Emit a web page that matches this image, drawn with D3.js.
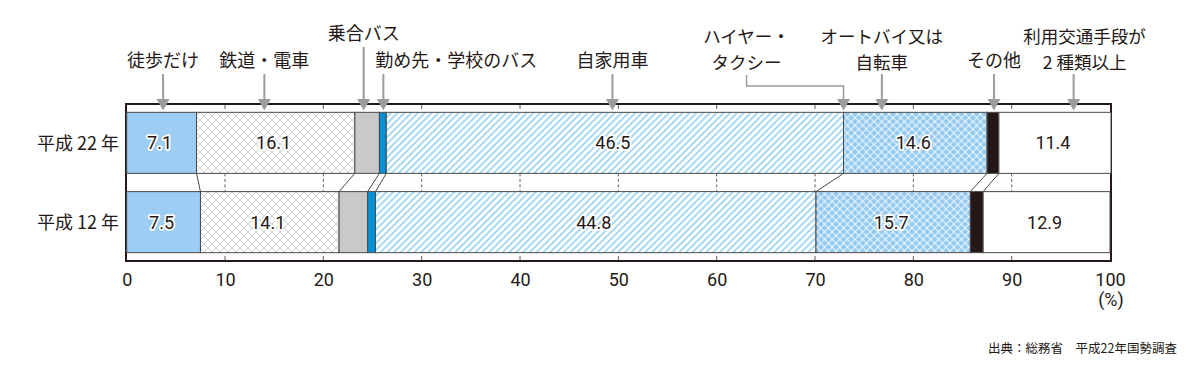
<!DOCTYPE html>
<html>
<head>
<meta charset="utf-8">
<script src="https://cdn.jsdelivr.net/npm/d3@7"></script>
<style>
  body { margin: 0; background: #fff; }
  text { font-family: "Noto Sans CJK JP", "Noto Sans", sans-serif; fill: #231815; }
  .num { font-family: "Liberation Sans Narrow", "Roboto", sans-serif; }
</style>
</head>
<body>
<svg id="chart" width="1200" height="379"></svg>
<script>
// rows, categories and shares (%)
var years = ["平成 22 年", "平成 12 年"];
var modes = ["徒歩だけ", "鉄道・電車", "乗合バス", "勤め先・学校のバス", "自家用車",
             "オートバイ又は自転車", "その他", "利用交通手段が2種類以上"];
var h22 = [7.1, 16.1, 2.5, 0.7, 46.5, 14.6, 1.2, 11.4];
var h12 = [7.5, 14.1, 2.9, 0.8, 44.8, 15.7, 1.3, 12.9];
var showValue = [true, true, false, false, true, true, false, true];
var tickValues = [0, 10, 20, 30, 40, 50, 60, 70, 80, 90, 100];

// callouts above the frame: text lines and where the arrow points (in %)
var calloutText = [["徒歩だけ"], ["鉄道・電車"], ["乗合バス"], ["勤め先・学校のバス"], ["自家用車"],
                   ["ハイヤー・", "タクシー"], ["オートバイ又は", "自転車"], ["その他"],
                   ["利用交通手段が", "2 種類以上"]];
var calloutAt = [3.7, 14.0, 24.1, 26.1, 49.4, 72.9, 76.8, 88.2, 96.3];

var source = "出典：総務省　平成22年国勢調査";

var svg = d3.select("#chart");

var x = d3.scaleLinear().domain([0, 100]).range([126.7, 1110]);
var y = d3.scaleBand().domain(years).range([104, 261])
    .paddingInner(0.23).paddingOuter(0.105);
var bw = y.bandwidth();

// patterns
var defs = svg.append("defs");
var rail = defs.append("pattern").attr("id", "rail")
    .attr("patternUnits", "userSpaceOnUse").attr("width", 8).attr("height", 8);
rail.append("rect").attr("width", 8).attr("height", 8).attr("fill", "#fff");
rail.append("path").attr("d", "M0,0L8,8M8,0L0,8")
    .attr("stroke", "#bcbcbc").attr("stroke-width", 0.7);

var car = defs.append("pattern").attr("id", "car")
    .attr("patternUnits", "userSpaceOnUse").attr("width", 4.8).attr("height", 10)
    .attr("patternTransform", "rotate(45)");
car.append("rect").attr("width", 4.8).attr("height", 10).attr("fill", "#fff");
car.append("line").attr("x1", 1).attr("x2", 1).attr("y1", 0).attr("y2", 10)
    .attr("stroke", "#35a9e3").attr("stroke-width", 0.9);

var bike = defs.append("pattern").attr("id", "bike")
    .attr("patternUnits", "userSpaceOnUse").attr("width", 7.6).attr("height", 7.6);
bike.append("rect").attr("width", 7.6).attr("height", 7.6).attr("fill", "#92c8f0");
bike.append("path").attr("d", "M0,0L7.6,7.6M7.6,0L0,7.6")
    .attr("stroke", "#eef7fd").attr("stroke-width", 1.1);

var fills = ["#9dcdf2", "url(#rail)", "#c9c9ca", "#0092d8", "url(#car)",
             "url(#bike)", "#231815", "#fff"];

// stack rows
var rows = [h22, h12].map(function(vals, r) {
  var acc = 0;
  return vals.map(function(v, i) {
    var seg = {year: years[r], i: i, v: v, x0: acc, x1: acc + v};
    acc += v;
    return seg;
  });
});

// frame
svg.append("rect")
    .attr("x", 126).attr("y", 104)
    .attr("width", 1111 - 126).attr("height", 261 - 104)
    .attr("fill", "#fff").attr("stroke", "#231815").attr("stroke-width", 2);

// grid: short ticks top/bottom, dashed in the gap
var inner = tickValues.slice(1, -1);
var y22 = y(years[0]), y12 = y(years[1]);
svg.selectAll(".ttick").data(inner).enter().append("line")
    .attr("x1", x).attr("x2", x).attr("y1", 105).attr("y2", 109)
    .attr("stroke", "#333").attr("stroke-width", 0.8);
svg.selectAll(".btick").data(inner).enter().append("line")
    .attr("x1", x).attr("x2", x).attr("y1", 256).attr("y2", 260)
    .attr("stroke", "#333").attr("stroke-width", 0.8);
svg.selectAll(".gtick").data(inner).enter().append("line")
    .attr("x1", x).attr("x2", x).attr("y1", y22 + bw).attr("y2", y12)
    .attr("stroke", "#333").attr("stroke-width", 0.8).attr("stroke-dasharray", "3,2.5");

// bars
rows.forEach(function(row) {
  svg.append("g").selectAll("rect").data(row).enter().append("rect")
      .attr("x", function(d) { return x(d.x0); })
      .attr("y", function(d) { return y(d.year); })
      .attr("width", function(d) { return x(d.x1) - x(d.x0); })
      .attr("height", bw)
      .attr("fill", function(d) { return fills[d.i]; })
      .attr("stroke", "#4a4a4a").attr("stroke-width", 1);
});

// connectors between the two bars
var links = d3.range(1, modes.length).map(function(i) {
  return [rows[0][i].x0, rows[1][i].x0];
});
svg.selectAll(".link").data(links).enter().append("line")
    .attr("x1", function(d) { return x(d[0]); }).attr("y1", y22 + bw)
    .attr("x2", function(d) { return x(d[1]); }).attr("y2", y12)
    .attr("stroke", "#4a4a4a").attr("stroke-width", 1);

// value labels
rows.forEach(function(row) {
  svg.append("g").selectAll("text").data(row.filter(function(d) { return showValue[d.i]; }))
    .enter().append("text")
      .attr("class", "num")
      .attr("x", function(d) { return x((d.x0 + d.x1) / 2) - 2; })
      .attr("y", function(d) { return y(d.year) + bw / 2 + 6.5; })
      .attr("text-anchor", "middle")
      .attr("font-size", 18)
      .attr("stroke", "#fff").attr("stroke-width", 3.5)
      .attr("stroke-linejoin", "round")
      .style("paint-order", "stroke")
      .text(function(d) { return d.v.toFixed(1); });
});

// row labels
var yAxis = svg.append("g").attr("transform", "translate(119,0)")
    .call(d3.axisLeft(y).tickSize(0).tickPadding(0));
yAxis.select(".domain").remove();
yAxis.selectAll("text").attr("font-size", 18).attr("dy", "0.38em")
    .style("font-family", '"Noto Sans CJK JP", sans-serif').attr("fill", "#231815");

// x axis labels
var xAxis = svg.append("g").attr("transform", "translate(0,261)")
    .call(d3.axisBottom(x).tickValues(tickValues).tickSize(0).tickPadding(12));
xAxis.select(".domain").remove();
xAxis.selectAll("text").attr("class", "num").attr("font-size", 18).attr("fill", "#231815");
svg.append("text").attr("class", "num")
    .attr("x", x(100) + 1).attr("y", 306)
    .attr("text-anchor", "middle").attr("font-size", 18)
    .text("(%)");

// callouts
var arrowColor = "#9c9c9c";
calloutText.forEach(function(lines, k) {
  var ax = x(calloutAt[k]);
  var lx = ax, anchor = "middle", base = [43, 69], stemTop = 74;
  if (lines.length === 1) base = [67];
  if (k === 2) { base = [40]; stemTop = 47; }
  if (k === 3) { lx = ax - 8; anchor = "start"; }
  if (k === 8) lx = ax + 11;
  if (k === 5) lx = ax - 97;

  lines.forEach(function(s, j) {
    svg.append("text")
        .attr("x", lx).attr("y", base[j])
        .attr("text-anchor", anchor)
        .attr("font-size", lines.length > 1 ? 17.5 : 18)
        .text(s);
  });

  var path = k === 5
    ? "M" + lx + ",75V86H" + ax + "V100"
    : "M" + ax + "," + stemTop + "V100";
  svg.append("path").attr("d", path).attr("fill", "none")
      .attr("stroke", arrowColor).attr("stroke-width", k === 5 ? 1.5 : 2);
  svg.append("path")
      .attr("d", "M" + (ax - 6.5) + ",99L" + (ax + 6.5) + ",99L" + ax + ",110.5Z")
      .attr("fill", arrowColor);
});

// source note
svg.append("text")
    .attr("x", 1177).attr("y", 353)
    .attr("text-anchor", "end").attr("font-size", 12.5)
    .text(source);
</script>
</body>
</html>
